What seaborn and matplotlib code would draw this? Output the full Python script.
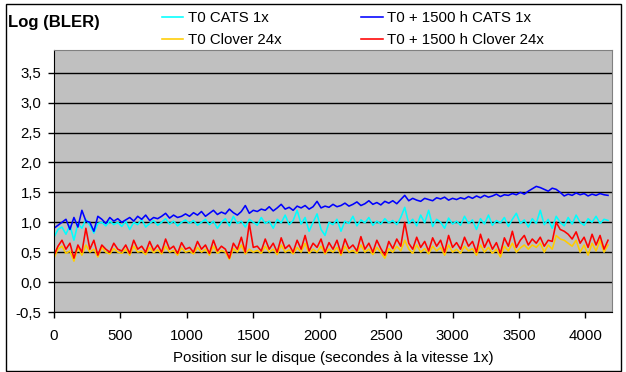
import numpy as np
import pandas as pd
import seaborn as sns
import matplotlib
matplotlib.use('Agg')
from matplotlib import pyplot as plt
from matplotlib.patches import Rectangle
from matplotlib.ticker import FuncFormatter

# sample positions (seconds at 1x), one every 30 s
position = np.arange(0, 4200, 30)

t0_cats = [
    0.75, 0.88, 0.92, 0.80, 0.95, 0.70, 0.98, 0.90, 1.05, 0.95, 0.82, 0.98, 1.00, 0.94, 1.02, 0.96, 1.00,
    0.93, 1.02, 0.88, 1.00, 0.96, 1.05, 0.92, 0.98, 1.03, 0.95, 1.00, 1.06, 0.97, 1.02, 0.94, 1.00, 1.04,
    0.98, 1.03, 0.95, 1.00, 1.05, 0.96, 1.02, 0.90, 1.00, 1.06, 0.94, 1.10, 0.98, 1.02, 0.92, 1.05, 1.00,
    0.95, 1.08, 0.98, 1.02, 0.90, 1.05, 0.99, 1.12, 0.96, 1.03, 1.20, 0.97, 1.08, 0.85, 1.00, 1.14, 0.88,
    0.78, 1.00, 0.96, 1.05, 0.85, 1.02, 0.98, 1.10, 0.94, 1.04, 0.99, 1.08, 0.95, 1.02, 0.97, 1.06, 0.99,
    1.03, 0.96, 1.08, 1.25, 0.98, 1.05, 0.94, 1.12, 0.99, 1.20, 0.93, 1.05, 1.00, 0.90, 1.07, 0.97, 1.02,
    0.95, 1.10, 0.98, 1.04, 0.88, 1.06, 0.97, 1.12, 0.95, 1.03, 0.99, 1.08, 0.93, 1.05, 1.15, 0.98, 1.04,
    0.92, 1.06, 0.98, 1.20, 0.96, 1.05, 0.90, 1.10, 1.00, 0.94, 1.08, 0.97, 1.12, 1.00, 0.95, 1.06, 1.00,
    1.10, 0.98, 1.05, 1.03,
]

t1500_cats = [
    0.90, 0.95, 1.00, 1.05, 0.88, 1.08, 0.92, 1.20, 1.02, 1.00, 0.85, 1.10, 1.05, 0.98, 1.08, 1.02, 1.06,
    1.00, 1.04, 1.08, 1.02, 1.10, 1.05, 1.12, 1.03, 1.08, 1.06, 1.10, 1.15, 1.07, 1.12, 1.08, 1.10, 1.14,
    1.10, 1.16, 1.12, 1.18, 1.10, 1.15, 1.20, 1.13, 1.17, 1.14, 1.22, 1.16, 1.12, 1.18, 1.28, 1.15, 1.20,
    1.18, 1.22, 1.20, 1.26, 1.19, 1.24, 1.30, 1.22, 1.25, 1.20, 1.27, 1.24, 1.28, 1.22, 1.26, 1.35, 1.24,
    1.27, 1.25, 1.30, 1.26, 1.28, 1.32, 1.27, 1.30, 1.34, 1.28, 1.31, 1.36, 1.30, 1.33, 1.29, 1.35, 1.32,
    1.36, 1.31, 1.38, 1.45, 1.36, 1.40, 1.37, 1.35, 1.40, 1.38, 1.36, 1.41, 1.39, 1.42, 1.37, 1.40, 1.38,
    1.41, 1.39, 1.43, 1.40, 1.44, 1.41, 1.45, 1.42, 1.44, 1.47, 1.43, 1.46, 1.45, 1.48, 1.46, 1.50, 1.47,
    1.52, 1.56, 1.60, 1.58, 1.55, 1.52, 1.57, 1.55, 1.50, 1.44, 1.47, 1.45, 1.49, 1.46, 1.48, 1.44, 1.47,
    1.45, 1.48, 1.46, 1.45,
]

t0_clover = [
    0.40, 0.55, 0.60, 0.48, 0.52, 0.35, 0.58, 0.45, 0.62, 0.50, 0.55, 0.42, 0.58, 0.50, 0.47, 0.56, 0.50,
    0.48, 0.55, 0.45, 0.60, 0.50, 0.52, 0.46, 0.58, 0.49, 0.54, 0.47, 0.60, 0.50, 0.53, 0.45, 0.57, 0.50,
    0.52, 0.47, 0.58, 0.50, 0.55, 0.45, 0.60, 0.48, 0.53, 0.50, 0.38, 0.56, 0.50, 0.62, 0.47, 0.55, 0.50,
    0.53, 0.48, 0.60, 0.50, 0.55, 0.46, 0.62, 0.50, 0.54, 0.47, 0.58, 0.50, 0.65, 0.48, 0.55, 0.50, 0.60,
    0.47, 0.55, 0.50, 0.58, 0.45, 0.60, 0.50, 0.53, 0.48, 0.62, 0.50, 0.55, 0.46, 0.58, 0.50, 0.40, 0.56,
    0.50, 0.60, 0.52, 0.70, 0.55, 0.48, 0.62, 0.50, 0.56, 0.47, 0.60, 0.52, 0.58, 0.45, 0.62, 0.50, 0.55,
    0.48, 0.60, 0.52, 0.56, 0.45, 0.62, 0.50, 0.58, 0.48, 0.55, 0.42, 0.60, 0.52, 0.65, 0.50, 0.57, 0.62,
    0.55, 0.62, 0.58, 0.65, 0.50, 0.62, 0.55, 0.78, 0.72, 0.70, 0.65, 0.60, 0.70, 0.50, 0.62, 0.45, 0.65,
    0.52, 0.70, 0.50, 0.62,
]

t1500_clover = [
    0.45, 0.60, 0.70, 0.55, 0.65, 0.40, 0.62, 0.50, 0.90, 0.55, 0.70, 0.45, 0.62, 0.55, 0.50, 0.65, 0.55,
    0.52, 0.62, 0.48, 0.70, 0.55, 0.60, 0.50, 0.68, 0.53, 0.62, 0.50, 0.72, 0.55, 0.60, 0.48, 0.66, 0.55,
    0.58, 0.50, 0.68, 0.55, 0.62, 0.48, 0.70, 0.52, 0.60, 0.55, 0.40, 0.65, 0.55, 0.75, 0.50, 0.98, 0.58,
    0.60, 0.52, 0.72, 0.55, 0.65, 0.50, 0.74, 0.56, 0.62, 0.50, 0.70, 0.55, 0.78, 0.52, 0.65, 0.58, 0.72,
    0.50, 0.66, 0.55, 0.70, 0.48, 0.72, 0.56, 0.62, 0.52, 0.76, 0.55, 0.65, 0.50, 0.70, 0.56, 0.45, 0.68,
    0.56, 0.72, 0.60, 1.00, 0.65, 0.55, 0.75, 0.58, 0.68, 0.52, 0.74, 0.60, 0.70, 0.50, 0.78, 0.58, 0.66,
    0.55, 0.75, 0.60, 0.68, 0.50, 0.80, 0.58, 0.72, 0.55, 0.66, 0.48, 0.74, 0.60, 0.85, 0.58, 0.70, 0.78,
    0.62, 0.72, 0.65, 0.75, 0.60, 0.70, 0.68, 1.00, 0.88, 0.85, 0.80, 0.72, 0.84, 0.65, 0.75, 0.58, 0.80,
    0.62, 0.78, 0.55, 0.70,
]

series_names = ['T0 CATS 1x', 'T0 + 1500 h CATS 1x', 'T0 Clover 24x', 'T0 + 1500 h Clover 24x']
series_values = [t0_cats, t1500_cats, t0_clover, t1500_clover]
colors = ['#00FFFF', '#0000FF', '#FFCC00', '#FF0000']

df = pd.DataFrame({'position': position})
for name, vals in zip(series_names, series_values):
    df[name] = vals

plt.rcParams['font.family'] = ['Liberation Sans', 'DejaVu Sans']
fs = 10.8

fig = plt.figure(figsize=(6.26, 3.72), dpi=100)
ax = fig.add_axes([54 / 626, 1 - 312 / 372, 558 / 626, 262 / 372])
ax.set_facecolor('#C0C0C0')

handles = {}
for name, c in zip(series_names, colors):
    sns.lineplot(data=df, x='position', y=name, ax=ax, color=c, linewidth=1.15)
    handles[name] = ax.lines[-1]

ax.set_xlim(0, 4200)
ax.set_ylim(-0.5, 3.88)
ax.set_yticks(np.arange(-0.5, 3.6, 0.5))
ax.set_xticks(np.arange(0, 4001, 500))
ax.yaxis.set_major_formatter(FuncFormatter(lambda v, p: f'{v:.1f}'.replace('.', ',')))
ax.grid(axis='y', color='black', linewidth=1.0)
ax.set_axisbelow(True)
ax.tick_params(direction='out', length=4, width=1, color='black', labelsize=fs)
ax.tick_params(axis='x', pad=8)
ax.tick_params(axis='y', pad=5)
for side in ['top', 'right']:
    ax.spines[side].set_color('#808080')
for side in ['left', 'bottom']:
    ax.spines[side].set_color('black')
ax.set_xlabel('Position sur le disque (secondes à la vitesse 1x)', fontsize=fs, labelpad=6)
ax.set_ylabel('')

fig.text(8 / 626, 1 - 22 / 372, 'Log (BLER)', fontsize=12, fontweight='bold', va='center', ha='left')

order = ['T0 CATS 1x', 'T0 Clover 24x', 'T0 + 1500 h CATS 1x', 'T0 + 1500 h Clover 24x']
fig.legend([handles[n] for n in order], order, loc='upper left', bbox_to_anchor=(148 / 626, 1 + 2 / 372),
           ncol=2, frameon=False, handlelength=1.45, handletextpad=0.3, columnspacing=5.3,
           labelspacing=0.5, fontsize=fs)

fig.patches.append(Rectangle((6 / 626, 1 / 372), 615 / 626, 367 / 372, transform=fig.transFigure,
                             fill=False, edgecolor='black', linewidth=1.0))

plt.savefig('out.png', dpi=100)
